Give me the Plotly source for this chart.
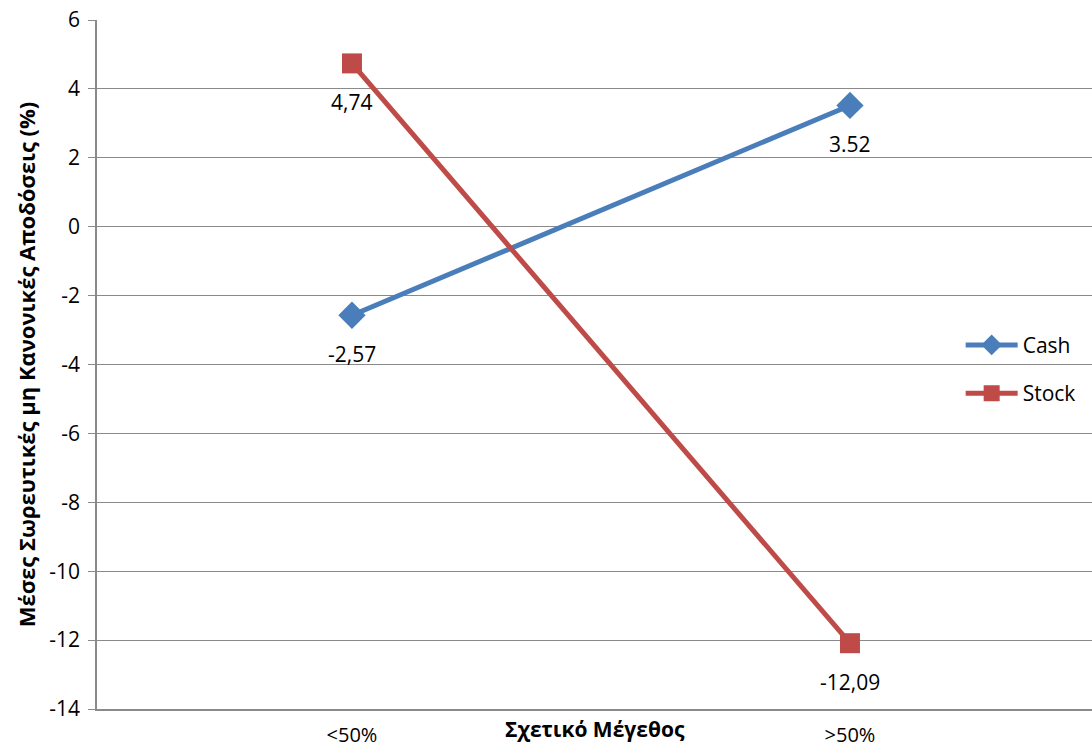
import plotly.graph_objects as go

# Categories and series values
categories = ["<50%", ">50%"]
cash = [-2.57, 3.52]
stock = [4.74, -12.09]
cash_labels = ["-2,57", "3.52"]
stock_labels = ["4,74", "-12,09"]
y_ticks = list(range(-14, 7, 2))

FONT = "Open Sans"
GRID = "#8a8a8a"
BLUE = "#4a7ebb"
RED = "#be4b48"
FS = 21

fig = go.Figure()
fig.add_trace(go.Scatter(
    x=categories, y=cash, name="Cash", mode="lines+markers",
    line=dict(color=BLUE, width=5),
    marker=dict(symbol="diamond", size=21, color=BLUE),
    legendgroup="cash",
))
fig.add_trace(go.Scatter(
    x=categories, y=stock, name="Stock", mode="lines+markers",
    line=dict(color=RED, width=5),
    marker=dict(symbol="square", size=20, color=RED),
    legendgroup="stock",
))

# Value labels under each point
for xs, ys, labels in ((categories, cash, cash_labels), (categories, stock, stock_labels)):
    for xv, yv, t in zip(xs, ys, labels):
        fig.add_annotation(x=xv, y=yv, text=t, showarrow=False, yshift=-39,
                           font=dict(family=FONT, size=FS, color="black"))

# X axis title sits between the axis line and the category labels
fig.add_annotation(xref="paper", yref="paper", x=0.5, y=-0.029, yanchor="middle",
                   text="<b>Σχετικό Μέγεθος</b>", showarrow=False,
                   font=dict(family=FONT, size=FS, color="black"))

fig.update_layout(
    width=1092, height=751,
    margin=dict(l=97, r=0, t=20, b=42),
    paper_bgcolor="white", plot_bgcolor="white",
    font=dict(family=FONT, size=FS, color="black"),
    showlegend=True,
    legend=dict(x=0.868, y=0.493, xanchor="left", yanchor="middle",
                bgcolor="rgba(0,0,0,0)", tracegroupgap=18, traceorder="grouped",
                itemwidth=52, font=dict(family=FONT, size=FS)),
    xaxis=dict(
        type="category", range=[-0.512, 1.486], automargin=False,
        showgrid=False, zeroline=False, showline=True, linecolor=GRID, linewidth=1.5,
        ticks="", ticklabelstandoff=7,
        tickfont=dict(family=FONT, size=20),
    ),
    yaxis=dict(
        range=[-14, 6], tickvals=y_ticks, ticktext=[str(v) for v in y_ticks],
        automargin=False,
        showgrid=True, gridcolor=GRID, gridwidth=1.2,
        zeroline=False, showline=True, linecolor=GRID, linewidth=1.5,
        ticks="outside", ticklen=7, tickcolor=GRID, tickwidth=1.2,
        ticklabelstandoff=4,
        tickfont=dict(family=FONT, size=FS),
        title=dict(text="<b>Μέσες Σωρευτικές μη Κανονικές Αποδόσεις (%)</b>",
                   font=dict(family=FONT, size=22), standoff=8),
    ),
)

fig.write_html("out.html")
